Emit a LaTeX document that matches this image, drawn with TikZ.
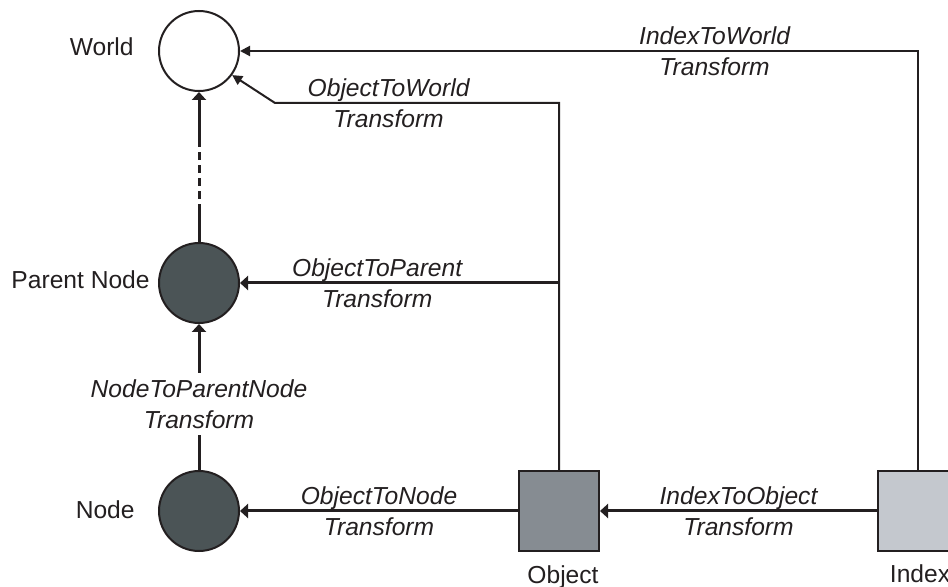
\documentclass[tikz,border=0pt]{standalone}
\usepackage{fontspec}
\setmainfont{Liberation Sans}
\usetikzlibrary{arrows.meta}

\definecolor{nodegray}{RGB}{75,84,86}
\definecolor{objgray}{RGB}{134,140,146}
\definecolor{idxgray}{RGB}{196,200,206}
\definecolor{ink}{RGB}{35,31,32}

\tikzset{
ball/.style={circle, draw=ink, line width=1pt, minimum size=40pt, inner sep=0pt},
box/.style={rectangle, draw=ink, line width=1pt, minimum size=40pt, inner sep=0pt},
name text/.style={font=\fontsize{12.3}{15}\selectfont, text=ink, inner sep=0pt},
trans text/.style={font=\fontsize{12.3}{15.5}\selectfont\itshape, align=center, text=ink},
heavy/.style={draw=ink, line width=1.5pt, -{Triangle[length=4pt,width=7pt]}},
light/.style={draw=ink, line width=1pt, -{Triangle[length=5pt,width=5pt]}}
}

\begin{document}
\begin{tikzpicture}[x=0.5pt, y=-0.5pt]

\useasboundingbox (0,0) rectangle (948,587);

% Circles World, Parent Node and Node
\foreach \n/\y/\c in {world/51/white, parent/283/nodegray, nd/511/nodegray} {
\node[ball, fill=\c] (\n) at (199,\y) {};
}

% Squares Object and Index
\node[box, fill=objgray] (object) at (559,511) {};
\node[box, fill=idxgray] (index) at (918,511) {};

% Names of the nodes
\node[name text, anchor=east] (worldname) at (134,47) {World};
\node[name text, anchor=east] (parentname) at (150,280) {Parent Node};
\node[name text, anchor=east] (ndname) at (135,510) {Node};
\node[name text] (objectname) at (563,577) {Object};
\node[name text] (indexname) at (920,574) {Index};

% Parent Node up to World, partly dashed
\coordinate (dashlow) at (199,212);
\coordinate (dashtop) at (199,142);
\draw[draw=ink, line width=1.5pt] (parent) -- (dashlow);
\draw[draw=ink, line width=1.5pt, dash pattern=on 4pt off 2.5pt] (dashlow) -- (dashtop);
\draw[heavy] (dashtop) -- (world);

% Node to Parent Node
\draw[heavy] (nd) -- node[trans text, fill=white, pos=0.45] (ndlab) {NodeToParentNode\\Transform} (parent);

% Object to Node and Index to Object
\draw[heavy] (object) -- node[trans text] (objndlab) {ObjectToNode\\Transform} (nd);
\draw[heavy] (index) -- node[trans text] (idxobjlab) {IndexToObject\\Transform} (object);

% Object to Parent Node
\coordinate (objbend) at (object.north |- parent.east);
\draw[heavy] (objbend) -- node[trans text, pos=0.57] (objparlab) {ObjectToParent\\Transform} (parent);

% Object to World
\coordinate (objtop) at (559,103);
\coordinate (objknee) at (275,103);
\draw[light] (object.north) -- (objtop) -- node[trans text, pos=0.6] (objwlab) {ObjectToWorld\\Transform} (objknee) -- (world.-36);

% Index to World
\coordinate (idxtop) at (index.north |- world.east);
\draw[light] (index.north) -- (idxtop) -- node[trans text, pos=0.3] (idxwlab) {IndexToWorld\\Transform} (world.east);

\end{tikzpicture}
\end{document}
